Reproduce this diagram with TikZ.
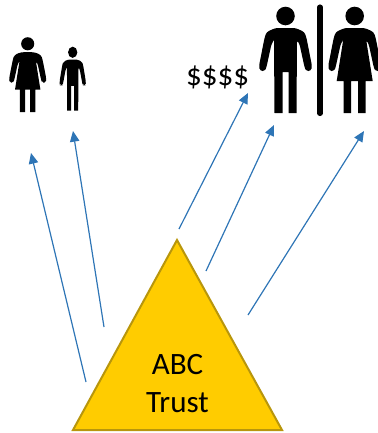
\documentclass[tikz,border=0pt]{standalone}
\usepackage{fontspec}
\setmainfont{Carlito}
\usetikzlibrary{arrows.meta}
\definecolor{trustfill}{HTML}{FFCC00}
\definecolor{trustedge}{HTML}{B8960C}
\definecolor{linkblue}{HTML}{2E75B6}
\tikzset{
  link/.style={
    draw=linkblue,
    line width=0.9pt,
    -{Triangle[length=8pt,width=7pt]}
  },
  caption/.style={
    font=\fontsize{23.3}{28}\selectfont,
    inner sep=0pt
  },
  man/.pic={
    \fill (0,16) circle (9.3);
    \fill[rounded corners=2pt] (-10,28) -- (10,28) -- (19,32) -- (21,38) -- (26.5,66)
      -- (25.5,71) -- (20.5,71) -- (19,67) -- (14,44) -- (11.5,40)
      [sharp corners] -- (11,113) -- (3,113) -- (3,72) -- (-3,72) -- (-3,113) -- (-11,113) -- (-11.5,40)
      [rounded corners=2pt] -- (-14,44) -- (-19,67) -- (-20.5,71) -- (-25.5,71) -- (-26.5,66) -- (-21,38) -- (-19,32) -- cycle;
  },
  woman/.pic={
    \fill (0,16) circle (9.3);
    \fill[rounded corners=2pt] (-10,28) -- (10,28) -- (19,32) -- (21,38) -- (26.5,66)
      -- (25.5,71) -- (20.5,71) -- (19,67) -- (14,44) -- (11.5,40)
      [sharp corners] -- (18,81) -- (11,81) -- (11,113) -- (3.5,113) -- (3.5,81) -- (-3.5,81)
      -- (-3.5,113) -- (-11,113) -- (-11,81) -- (-18,81) -- (-11.5,40)
      [rounded corners=2pt] -- (-14,44) -- (-19,67) -- (-20.5,71) -- (-25.5,71) -- (-26.5,66) -- (-21,38) -- (-19,32) -- cycle;
  }
}
\begin{document}
\begin{tikzpicture}[x=0.75pt,y=-0.75pt]
  \useasboundingbox (0,0) rectangle (378,433);
  % people
  \pic[xscale=0.705,yscale=0.705] at (27.7,32.5) {woman};
  \pic[xscale=0.5,yscale=0.6] at (72.7,42.7) {man};
  \pic at (285.5,0) {man};
  \pic at (354.7,0) {woman};
  \draw[line width=3.8pt,line cap=round] (320,7) -- (320,113.5);
  \node[caption] (money) at (217.5,77) {\$\$\$\$};
  % trust
  \coordinate (apex) at (177,240);
  \coordinate (left) at (73,430);
  \coordinate (right) at (282,430);
  \draw[fill=trustfill,draw=trustedge,line width=1.5pt,line join=miter] (apex) -- (left) -- (right) -- cycle;
  \node[caption,align=center] (trust) at (177.5,383.5) {ABC\\[1.2pt]Trust};
  % links
  \foreach \i/\a/\b in {1/{86,382}/{31,153},2/{104,327}/{73,131},3/{179,229}/{248,93},4/{206,271}/{274,125},5/{248,315}/{364,131}}{
    \coordinate (s\i) at (\a);
    \coordinate (e\i) at (\b);
    \draw[link] (s\i) -- (e\i);
  }
\end{tikzpicture}
\end{document}
